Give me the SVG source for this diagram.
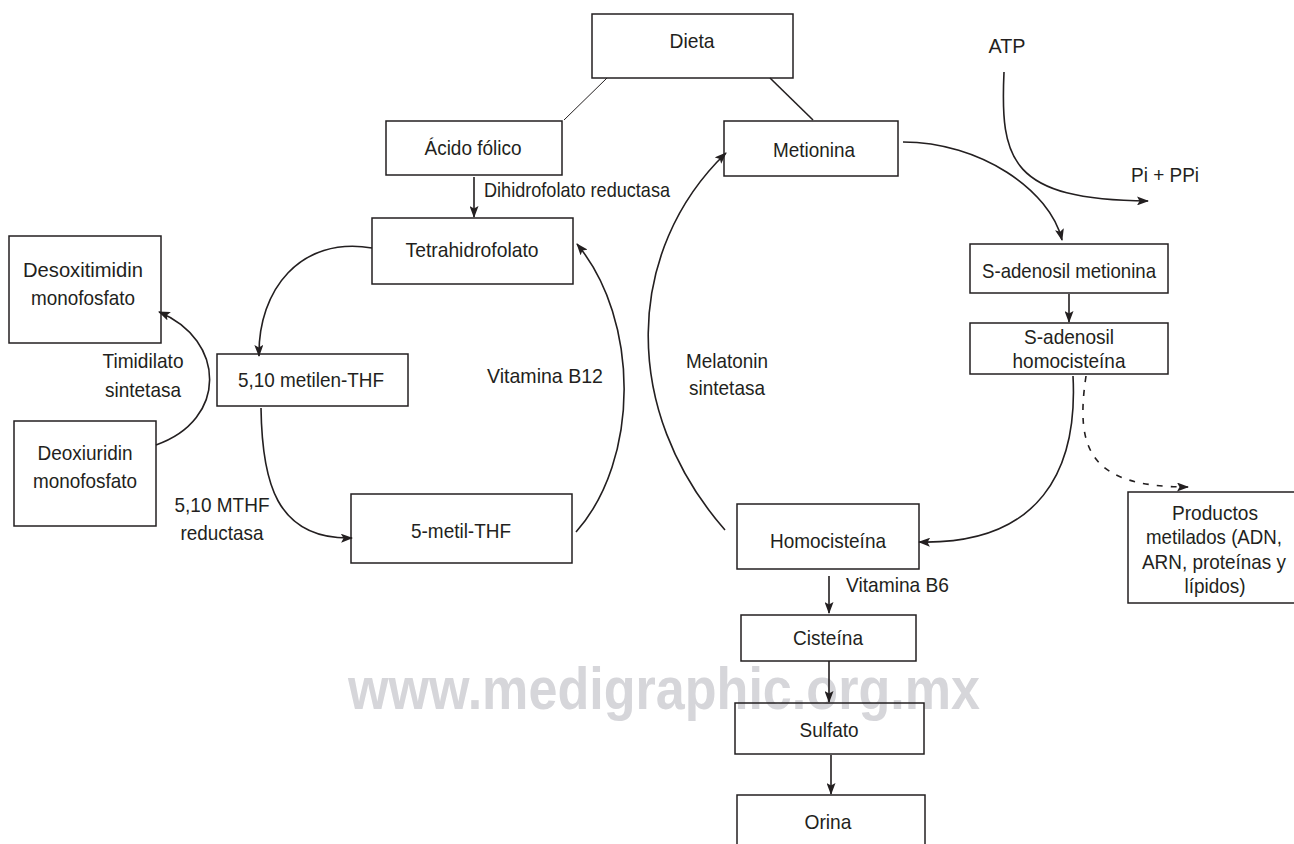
<svg xmlns="http://www.w3.org/2000/svg" width="1294" height="844" viewBox="0 0 1294 844">
<defs>
<style>
.box{fill:none;stroke:#231f20;stroke-width:1.5}
.lbl{font-family:"Liberation Sans",Arial,sans-serif;font-size:21px;fill:#231f20;text-anchor:middle}
.lft{text-anchor:start}
.con{fill:none;stroke:#231f20;stroke-width:1.6}
.arr{marker-end:url(#ah)}
.dash{stroke-dasharray:6 8}
.wm{font-family:"Liberation Sans",Arial,sans-serif;font-size:60px;font-weight:bold;fill:#d6d6da}
</style>
<marker id="ah" viewBox="0 0 12 9" refX="11" refY="4.5" markerWidth="12" markerHeight="9" markerUnits="userSpaceOnUse" orient="auto">
<path d="M0,0 L12,4.5 L0,9 L2.5,4.5 z" fill="#231f20"/>
</marker>
</defs>
<rect width="1294" height="844" fill="#ffffff"/>
<text class="wm" x="348" y="709" textLength="632" lengthAdjust="spacingAndGlyphs">www.medigraphic.org.mx</text>

<g id="connectors">
<path class="con" style="stroke-width:1" d="M607,78 L564,120"/>
<path class="con" d="M770,78 L813,120"/>
<path class="con arr" d="M474,177 L474,217"/>
<path class="con arr" d="M372,248 C300,236 258,290 259,356"/>
<path class="con arr" d="M261,408 C262,480 275,540 352,538"/>
<path class="con arr" d="M576,532 C640,460 640,320 577,244"/>
<path class="con arr" d="M156,445 C228,420 226,340 159,312"/>
<path class="con arr" d="M725,530 C620,410 625,250 726,153"/>
<path class="con arr" d="M903,142 C980,142 1050,190 1062,240"/>
<path class="con arr" d="M1004,72 C1000,160 1010,200 1148,201"/>
<path class="con arr" d="M1069,294 L1069,322"/>
<path class="con arr" d="M1073,376 C1078,470 1040,545 919,542"/>
<path class="con arr dash" d="M1086,376 C1075,450 1090,487 1188,487"/>
<path class="con arr" d="M829,576 L829,613"/>
<path class="con arr" d="M829,661 L829,702"/>
<path class="con arr" d="M831,755 L831,794"/>
</g>

<g id="edge-labels">
<text class="lbl lft" x="484" y="197" textLength="186" lengthAdjust="spacingAndGlyphs">Dihidrofolato reductasa</text>
<text class="lbl" x="143" y="368" textLength="81" lengthAdjust="spacingAndGlyphs">Timidilato</text>
<text class="lbl" x="143" y="397" textLength="76" lengthAdjust="spacingAndGlyphs">sintetasa</text>
<text class="lbl" x="545" y="383" textLength="116" lengthAdjust="spacingAndGlyphs">Vitamina B12</text>
<text class="lbl" x="222" y="512" textLength="95" lengthAdjust="spacingAndGlyphs">5,10 MTHF</text>
<text class="lbl" x="222" y="540" textLength="83" lengthAdjust="spacingAndGlyphs">reductasa</text>
<text class="lbl" x="727" y="368" textLength="82" lengthAdjust="spacingAndGlyphs">Melatonin</text>
<text class="lbl" x="727" y="395" textLength="76" lengthAdjust="spacingAndGlyphs">sintetasa</text>
<text class="lbl" x="1007" y="53" textLength="37" lengthAdjust="spacingAndGlyphs">ATP</text>
<text class="lbl" x="1165" y="182" textLength="68" lengthAdjust="spacingAndGlyphs">Pi + PPi</text>
<text class="lbl lft" x="846" y="592" textLength="103" lengthAdjust="spacingAndGlyphs">Vitamina B6</text>
</g>

<g id="n-dieta"><rect class="box" x="592" y="14" width="201" height="64"/><text class="lbl" x="692" y="48" textLength="45" lengthAdjust="spacingAndGlyphs">Dieta</text></g>
<g id="n-acido"><rect class="box" x="386" y="121" width="176" height="54"/><text class="lbl" x="473" y="155" textLength="97" lengthAdjust="spacingAndGlyphs">Ácido fólico</text></g>
<g id="n-metionina"><rect class="box" x="724" y="121" width="174" height="55"/><text class="lbl" x="814" y="157" textLength="82" lengthAdjust="spacingAndGlyphs">Metionina</text></g>
<g id="n-tetra"><rect class="box" x="372" y="218" width="201" height="66"/><text class="lbl" x="472" y="257" textLength="133" lengthAdjust="spacingAndGlyphs">Tetrahidrofolato</text></g>
<g id="n-desoxi"><rect class="box" x="9" y="236" width="152" height="107"/><text class="lbl" x="83" y="277" textLength="120" lengthAdjust="spacingAndGlyphs">Desoxitimidin</text><text class="lbl" x="83" y="305" textLength="104" lengthAdjust="spacingAndGlyphs">monofosfato</text></g>
<g id="n-deoxiu"><rect class="box" x="14" y="421" width="142" height="105"/><text class="lbl" x="85" y="460" textLength="95" lengthAdjust="spacingAndGlyphs">Deoxiuridin</text><text class="lbl" x="85" y="488" textLength="104" lengthAdjust="spacingAndGlyphs">monofosfato</text></g>
<g id="n-metilen"><rect class="box" x="217" y="354" width="191" height="52"/><text class="lbl" x="311" y="387" textLength="146" lengthAdjust="spacingAndGlyphs">5,10 metilen-THF</text></g>
<g id="n-metil"><rect class="box" x="351" y="494" width="221" height="69"/><text class="lbl" x="461" y="538" textLength="100" lengthAdjust="spacingAndGlyphs">5-metil-THF</text></g>
<g id="n-sam"><rect class="box" x="970" y="244" width="198" height="49"/><text class="lbl" x="1069" y="278" textLength="174" lengthAdjust="spacingAndGlyphs">S-adenosil metionina</text></g>
<g id="n-sah"><rect class="box" x="970" y="323" width="198" height="51"/><text class="lbl" x="1069" y="344" textLength="90" lengthAdjust="spacingAndGlyphs">S-adenosil</text><text class="lbl" x="1069" y="368" textLength="113" lengthAdjust="spacingAndGlyphs">homocisteína</text></g>
<g id="n-homo"><rect class="box" x="737" y="504" width="182" height="65"/><text class="lbl" x="828" y="548" textLength="116" lengthAdjust="spacingAndGlyphs">Homocisteína</text></g>
<g id="n-cis"><rect class="box" x="741" y="615" width="175" height="46"/><text class="lbl" x="828" y="645" textLength="70" lengthAdjust="spacingAndGlyphs">Cisteína</text></g>
<g id="n-sulf"><rect class="box" x="735" y="703" width="189" height="51"/><text class="lbl" x="829" y="737" textLength="59" lengthAdjust="spacingAndGlyphs">Sulfato</text></g>
<g id="n-orina"><rect class="box" x="737" y="795" width="188" height="60"/><text class="lbl" x="828" y="829" textLength="47" lengthAdjust="spacingAndGlyphs">Orina</text></g>
<g id="n-productos"><rect class="box" x="1128" y="492" width="172" height="111"/><text class="lbl" x="1215" y="520" textLength="86" lengthAdjust="spacingAndGlyphs">Productos</text><text class="lbl" x="1214" y="544" textLength="136" lengthAdjust="spacingAndGlyphs">metilados (ADN,</text><text class="lbl" x="1214" y="569" textLength="144" lengthAdjust="spacingAndGlyphs">ARN, proteínas y</text><text class="lbl" x="1215" y="593" textLength="61" lengthAdjust="spacingAndGlyphs">lípidos)</text></g>
</svg>
